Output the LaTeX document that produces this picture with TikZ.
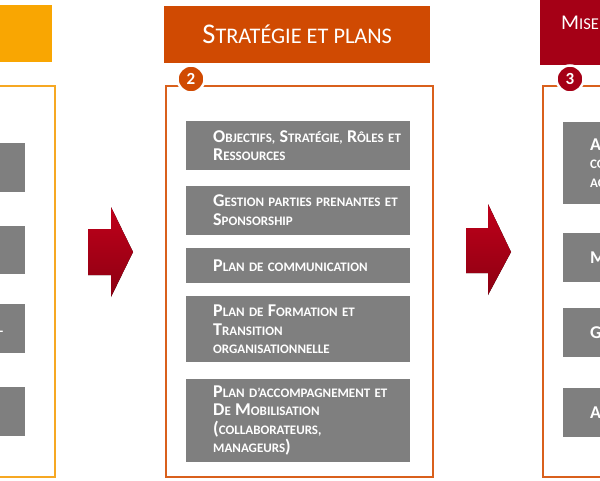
\documentclass[tikz,border=0pt]{standalone}
\usepackage{fontspec}
\setmainfont{Carlito}
\usetikzlibrary{positioning, calc}

\definecolor{hdrA}{HTML}{F9A602}
\definecolor{hdrB}{HTML}{D04A02}
\definecolor{hdrC}{HTML}{A50016}
\definecolor{frmA}{HTML}{F6A823}
\definecolor{frmB}{HTML}{D9601C}
\definecolor{boxgray}{HTML}{7F7F7F}
\definecolor{arrowtop}{HTML}{C0001A}
\definecolor{arrowbot}{HTML}{8C0012}

% big letters of the fake small caps
\newcommand{\bigc}[1]{{\fontsize{28.5}{30}\selectfont #1}}
\newcommand{\midc}[1]{{\fontsize{21}{24}\selectfont #1}}
\newcommand{\boxc}[1]{{\fontsize{18}{18.5}\selectfont #1}}

\begin{document}
\begin{tikzpicture}[x=1pt, y=-1pt,
    hdr/.style={minimum width=266, minimum height=57, inner sep=0, anchor=north west, text=white, font=\fontsize{22.3}{24}\selectfont},
    frm/.style={line width=2},
    item/.style={fill=boxgray, minimum width=224, text width=220, align=left, inner sep=0, anchor=north west, text=white, font=\bfseries\fontsize{13}{18.5}\selectfont, execute at begin node={\leftskip=25pt\relax}},
    badge/.style={circle, draw=white, line width=2.5, minimum size=27, inner sep=0, text=white, font=\bfseries\fontsize{17}{17}\selectfont},
    blockarrow/.style={top color=arrowtop, bottom color=arrowbot, draw=none}]

        \fill[white] (0,0) rectangle (600,480);
        \useasboundingbox (0,0) rectangle (600,480);

        % column 1
        \node[hdr, fill=hdrA] (h1) at (-214,5) {};
        \draw[frm, draw=frmA] (-212,86) rectangle (55,477);
        \node[item, minimum height=49] (b11) at (-199,143) {};
        \node[item, minimum height=48] (b12) at (-199,226) {};
        \node[item, minimum height=49, execute at begin node={\leftskip=0pt\relax}, align=right, text width=180] (b13) at (-199,304) {\hfill L};
        \node[item, minimum height=49] (b14) at (-199,387) {};

        % column 2
        \node[hdr, fill=hdrB] (h2) at (164,6) {\bigc{S}TRATÉGIE ET PLANS};
        \draw[frm, draw=frmB] (166,86) rectangle (433,477);
        \node[badge, fill=hdrB] (n2) at (191,79) {2};
        \node[item, minimum height=49] (b21) at (186,121) {\boxc{O}BJECTIFS, \boxc{S}TRATÉGIE, \boxc{R}ÔLES ET\\\boxc{R}ESSOURCES};
        \node[item, minimum height=49, below=15pt of b21] (b22) {\boxc{G}ESTION PARTIES PRENANTES ET\\\boxc{S}PONSORSHIP};
        \node[item, minimum height=35, below=13pt of b22] (b23) {\boxc{P}LAN DE COMMUNICATION};
        \node[item, minimum height=66, below=13pt of b23] (b24) {\boxc{P}LAN DE \boxc{F}ORMATION ET\\\boxc{T}RANSITION\\ORGANISATIONNELLE};
        \node[item, minimum height=83, below=16pt of b24] (b25) {\boxc{P}LAN D’ACCOMPAGNEMENT ET\\\boxc{D}E \boxc{M}OBILISATION\\\boxc{(}COLLABORATEURS,\\MANAGEURS\boxc{)}};

        % column 3
        \node[hdr, fill=hdrC, minimum height=65, minimum width=270] (h3) at (540,0) {};
        \node[anchor=west, text=white, inner sep=0, font=\fontsize{16.5}{20}\selectfont] (t3) at (561,22.5) {\midc{M}ISE EN ŒUVRE};
        \draw[frm, draw=frmB] (543,86) rectangle (810,477);
        \node[badge, fill=hdrC] (n3) at (570,79) {3};
        \node[item, minimum height=82] (b31) at (563,122) {\boxc{A}CTIONS DE\\COMMUNICATION\\ACCOMPAGNEMENT};
        \node[item, minimum height=49] (b32) at (563,233) {\boxc{M}OBILISATION};
        \node[item, minimum height=49] (b33) at (563,308) {\boxc{G}OUVERNANCE};
        \node[item, minimum height=49] (b34) at (563,388) {\boxc{A}JUSTEMENTS};

        % arrows between columns
        \fill[blockarrow] (88,229) -- (111,229) -- (111,207) -- (133,252) -- (111,297) -- (111,275) -- (88,275) -- cycle;
        \fill[blockarrow] (466,228) -- (488,228) -- (488,204) -- (511,252) -- (488,295) -- (488,273) -- (466,273) -- cycle;

\end{tikzpicture}
\end{document}
